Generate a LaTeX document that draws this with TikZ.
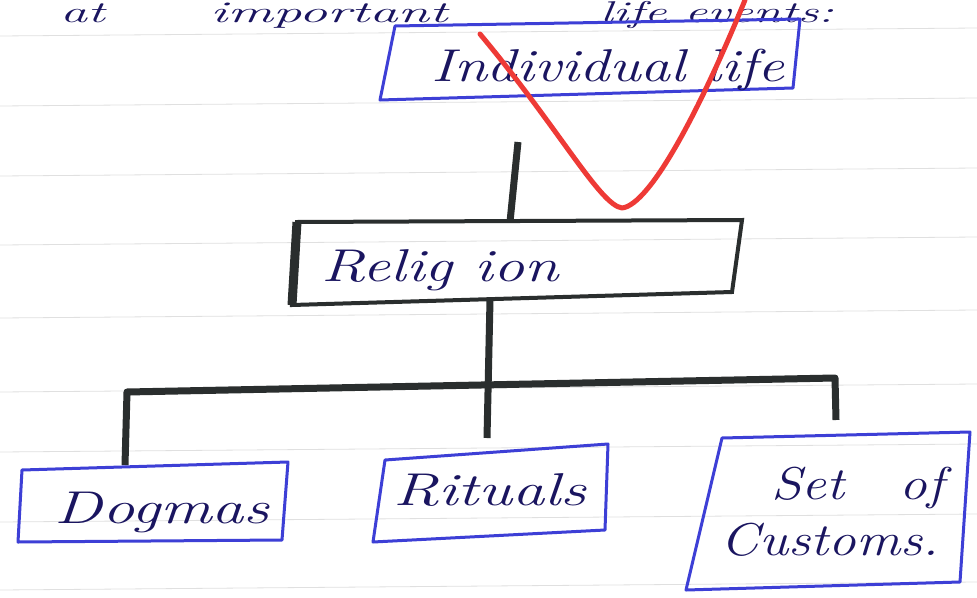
\documentclass[tikz,border=0pt]{standalone}
\usepackage{fontspec}
\setmainfont{Latin Modern Roman}
\begin{document}
\begin{tikzpicture}[x=1pt,y=-1pt,
  paperline/.style={draw=black!12,line width=0.8pt},
  bluebox/.style={draw=boxblue,line width=3pt,line join=round},
  connector/.style={draw=ink,line width=7pt},
  handtext/.style={text=textblue,font=\itshape\fontsize{46}{50}\selectfont},
]
\definecolor{boxblue}{HTML}{3D3FD6}
\definecolor{textblue}{HTML}{1A1560}
\definecolor{ink}{HTML}{2A2E2E}
\definecolor{tick}{HTML}{EE3A36}
\useasboundingbox (0,0) rectangle (977,597);
\fill[white] (0,0) rectangle (977,597);
% ruled paper lines
\foreach \y in {36,106,176,245,318,392,452,522,590}
  \draw[paperline] (0,\y) -- (977,\y-8);
% top text
\node[text=textblue,font=\itshape\fontsize{30}{34}\selectfont,anchor=base west,inner sep=0pt] (toptext) at (60,23)
  {\makebox[150pt][l]{\scalebox{1.8}[1]{at}}\makebox[390pt][l]{\scalebox{1.9}[1]{important}}\scalebox{1.7}[1]{life events:}};
% boxes
\draw[bluebox] (380,100) -- (395,26) -- (800,19) -- (793,88) -- cycle;
\node[handtext] (indiv) at (608,70) {\scalebox{1.3}[1]{Individual life}};
\draw[draw=ink,line width=4pt] (297,222) -- (742,220) -- (732,292) -- (292,305) -- cycle;
\draw[draw=ink,line width=9pt] (297,222) -- (292,305);
\node[handtext,anchor=west] (religion) at (318,270) {\scalebox{1.35}[1]{Relig ion}};
\draw[bluebox] (22,470) -- (288,462) -- (282,540) -- (18,542) -- cycle;
\node[handtext] (dogmas) at (162,512) {\scalebox{1.4}[1]{Dogmas}};
\draw[bluebox] (385,460) -- (608,444) -- (605,530) -- (373,542) -- cycle;
\node[handtext] (rituals) at (490,490) {\scalebox{1.4}[1]{Rituals}};
\draw[bluebox] (722,438) -- (970,432) -- (960,582) -- (686,590) -- cycle;
\node[handtext,align=center] (customs) at (830,512) {\scalebox{1.2}[1]{\quad Set\quad of}\\[6pt]\scalebox{1.2}[1]{Customs.}};
% connectors
\coordinate (a1) at (518,142);
\coordinate (a2) at (510,222);
\draw[connector] (a1) -- (a2);
\coordinate (b1) at (490,300);
\coordinate (b2) at (487,438);
\draw[connector] (b1) -- (b2);
\coordinate (hl) at (127,392);
\coordinate (hr) at (835,378);
\draw[connector,line join=round] (125,465) -- (hl) -- (hr) -- (836,420);
% red tick
\draw[draw=tick,line width=5pt,line cap=round,line join=round]
  (480,34) .. controls (560,130) and (600,205) .. (622,208)
  .. controls (650,205) and (700,110) .. (745,0);
\end{tikzpicture}
\end{document}
